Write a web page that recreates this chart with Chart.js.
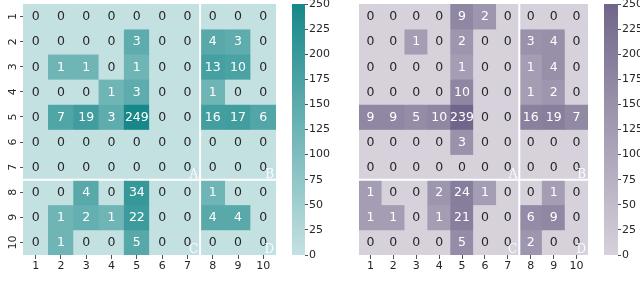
<!DOCTYPE html>
<html>
<head>
<meta charset="utf-8">
<script src="https://cdn.jsdelivr.net/npm/chart.js@4.4.1/dist/chart.umd.min.js"></script>
<style>
  html, body { margin: 0; padding: 0; background: #fff; }
  #wrap { position: relative; width: 640px; height: 287px; overflow: hidden; }
  .box { position: absolute; top: 0; height: 287px; }
</style>
</head>
<body>
<div id="wrap">
  <div class="box" style="left:0;width:290px"><canvas id="heat-left"></canvas></div>
  <div class="box" style="left:292px;width:48px"><canvas id="bar-left"></canvas></div>
  <div class="box" style="left:320px;width:280px"><canvas id="heat-right"></canvas></div>
  <div class="box" style="left:604px;width:36px"><canvas id="bar-right"></canvas></div>
</div>
<script>
const columnLabels = ["1", "2", "3", "4", "5", "6", "7", "8", "9", "10"];
const rowLabels = ["1", "2", "3", "4", "5", "6", "7", "8", "9", "10"];

const leftCounts = [
    [0, 0, 0, 0, 0, 0, 0, 0, 0, 0],
    [0, 0, 0, 0, 3, 0, 0, 4, 3, 0],
    [0, 1, 1, 0, 1, 0, 0, 13, 10, 0],
    [0, 0, 0, 1, 3, 0, 0, 1, 0, 0],
    [0, 7, 19, 3, 249, 0, 0, 16, 17, 6],
    [0, 0, 0, 0, 0, 0, 0, 0, 0, 0],
    [0, 0, 0, 0, 0, 0, 0, 0, 0, 0],
    [0, 0, 4, 0, 34, 0, 0, 1, 0, 0],
    [0, 1, 2, 1, 22, 0, 0, 4, 4, 0],
    [0, 1, 0, 0, 5, 0, 0, 0, 0, 0]
];

const rightCounts = [
    [0, 0, 0, 0, 9, 2, 0, 0, 0, 0],
    [0, 0, 1, 0, 2, 0, 0, 3, 4, 0],
    [0, 0, 0, 0, 1, 0, 0, 1, 4, 0],
    [0, 0, 0, 0, 10, 0, 0, 1, 2, 0],
    [9, 9, 5, 10, 239, 0, 0, 16, 19, 7],
    [0, 0, 0, 0, 3, 0, 0, 0, 0, 0],
    [0, 0, 0, 0, 0, 0, 0, 0, 0, 0],
    [1, 0, 0, 2, 24, 1, 0, 0, 1, 0],
    [1, 1, 0, 1, 21, 0, 0, 6, 9, 0],
    [0, 0, 0, 0, 5, 0, 0, 2, 0, 0]
];

const colorbarTicks = [0, 25, 50, 75, 100, 125, 150, 175, 200, 225, 250];
const colorbarMax = 250;
const quadrantLetters = ["A", "B", "C", "D"];
const splitAfter = 7;   // white lines after column 7 and row 7

const teal = { light: [196, 225, 226], dark: [23, 135, 137] };
const purple = { light: [214, 209, 219], dark: [113, 102, 138] };
const textDark = "#262626";

function mix(palette, t) {
    const c = palette.light.map((l, i) => Math.round(l + (palette.dark[i] - l) * t));
    return `rgb(${c[0]}, ${c[1]}, ${c[2]})`;
}

// non-zero cells start at mid tone and darken on a log scale
function cellColor(v, palette) {
    if (v <= 0) return mix(palette, 0);
    const t = 0.49 + 0.51 * Math.log(v) / Math.log(colorbarMax);
    return mix(palette, Math.min(t, 1));
}

const cellAnnotations = {
    id: "cellAnnotations",
    afterDatasetsDraw(chart) {
        const { ctx, scales: { x, y } } = chart;
        ctx.save();
        ctx.font = '12.5px "DejaVu Sans"';
        ctx.textAlign = "center";
        ctx.textBaseline = "middle";
        chart.data.datasets.forEach((ds, r) => {
            ds.counts.forEach((v, c) => {
                ctx.fillStyle = v > 0 ? "#ffffff" : textDark;
                ctx.fillText(String(v), x.getPixelForValue(c), y.getPixelForValue(r + 1) + 0.5);
            });
        });

        const sx = x.getPixelForValue(splitAfter - 0.5);
        const sy = y.getPixelForValue(splitAfter + 0.5);
        ctx.strokeStyle = "#ffffff";
        ctx.lineWidth = 2;
        ctx.beginPath();
        ctx.moveTo(sx, y.top);
        ctx.lineTo(sx, y.bottom);
        ctx.moveTo(x.left, sy);
        ctx.lineTo(x.right, sy);
        ctx.stroke();

        ctx.font = '12px "DejaVu Serif"';
        ctx.textAlign = "right";
        ctx.textBaseline = "alphabetic";
        ctx.fillStyle = "rgba(255,255,255,0.9)";
        const cornersX = [sx, x.right];
        const cornersY = [sy, y.bottom];
        quadrantLetters.forEach((letter, i) => {
            ctx.fillText(letter, cornersX[i % 2] - 2, cornersY[Math.floor(i / 2)] - 2);
        });
        ctx.restore();
    }
};

function makeHeatmap(canvasId, counts, palette, showRows, padLeft, padRight) {
    const datasets = counts.map((row, r) => ({
        data: row.map(() => [r + 0.5, r + 1.5]),
        backgroundColor: row.map(v => cellColor(v, palette)),
        counts: row
    }));

    return new Chart(document.getElementById(canvasId), {
        type: "bar",
        data: { labels: columnLabels, datasets: datasets },
        options: {
            responsive: true,
            maintainAspectRatio: false,
            animation: false,
            layout: { padding: { top: 4, left: padLeft, right: padRight, bottom: 0 } },
            datasets: { bar: { grouped: false, barPercentage: 1, categoryPercentage: 1, borderWidth: 0 } },
            plugins: { legend: { display: false }, tooltip: { enabled: false } },
            scales: {
                x: {
                    type: "category",
                    border: { display: false },
                    grid: { offset: false, drawOnChartArea: false, tickLength: 4, color: textDark, lineWidth: 0.8 },
                    ticks: { color: textDark, font: { family: "DejaVu Sans", size: 11 }, padding: 1, maxRotation: 0 },
                    afterFit: s => { s.height = 32; s.paddingLeft = 0; s.paddingRight = 0; }
                },
                y: {
                    type: "linear",
                    display: showRows,
                    reverse: true,
                    min: 0.5,
                    max: rowLabels.length + 0.5,
                    border: { display: false },
                    afterBuildTicks: s => { s.ticks = rowLabels.map((_, i) => ({ value: i + 1 })); },
                    grid: { drawOnChartArea: false, tickLength: 3, color: textDark, lineWidth: 0.8 },
                    ticks: {
                        callback: v => rowLabels[v - 1],
                        color: textDark,
                        font: { family: "DejaVu Sans", size: 11 },
                        minRotation: 90,
                        maxRotation: 90,
                        crossAlign: "center",
                        padding: 0
                    },
                    afterFit: s => { s.width = 23; s.paddingTop = 0; s.paddingBottom = 0; }
                }
            }
        },
        plugins: [cellAnnotations]
    });
}

function makeColorbar(canvasId, palette, axisWidth) {
    return new Chart(document.getElementById(canvasId), {
        type: "bar",
        data: {
            labels: [""],
            datasets: [{
                data: [colorbarMax],
                borderWidth: 0,
                barPercentage: 1,
                categoryPercentage: 1,
                backgroundColor: c => {
                    const area = c.chart.chartArea;
                    if (!area) return mix(palette, 0.5);
                    const g = c.chart.ctx.createLinearGradient(0, area.bottom, 0, area.top);
                    g.addColorStop(0, mix(palette, 0));
                    g.addColorStop(1, mix(palette, 1));
                    return g;
                }
            }]
        },
        options: {
            responsive: true,
            maintainAspectRatio: false,
            animation: false,
            layout: { padding: { top: 4, bottom: 32, left: 0, right: 0 } },
            plugins: { legend: { display: false }, tooltip: { enabled: false } },
            scales: {
                x: { display: false },
                y: {
                    position: "right",
                    min: 0,
                    max: colorbarMax,
                    border: { display: false },
                    afterBuildTicks: s => { s.ticks = colorbarTicks.map(v => ({ value: v })); },
                    grid: { drawOnChartArea: false, tickLength: 3, color: textDark, lineWidth: 0.8 },
                    ticks: { color: textDark, font: { family: "DejaVu Sans", size: 11 }, padding: 1 },
                    afterFit: s => { s.width = axisWidth; s.paddingTop = 0; s.paddingBottom = 0; }
                }
            }
        }
    });
}

makeHeatmap("heat-left", leftCounts, teal, true, 0, 14);
makeColorbar("bar-left", teal, 35);
makeHeatmap("heat-right", rightCounts, purple, false, 16, 12);
makeColorbar("bar-right", purple, 22);
</script>
</body>
</html>
